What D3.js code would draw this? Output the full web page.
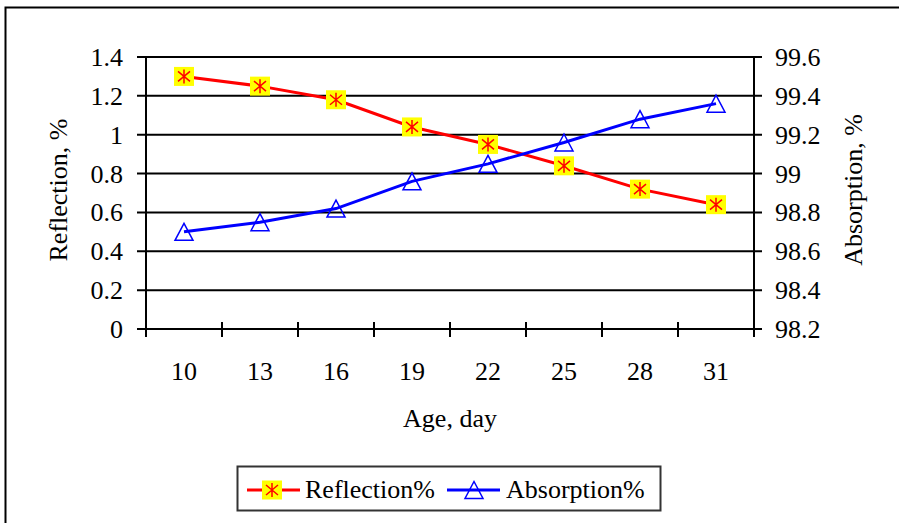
<!doctype html>
<html>
  <head>
    <script src="https://cdn.jsdelivr.net/npm/d3@7/dist/d3.min.js"></script>
    <style>
    body { margin: 0; background: #fff; }
    text { font-family: "Liberation Serif", serif; fill: #000; font-size: 26px; }
    .grid { stroke: #000; stroke-width: 2; }
    </style>
  </head>
  <body>
    <svg id="chart" width="899" height="523"></svg>
    <script>
      var ages = ["10", "13", "16", "19", "22", "25", "28", "31"];
      var reflection = [1.30, 1.25, 1.18, 1.04, 0.95, 0.84, 0.72, 0.64];
      var absorption = [98.70, 98.75, 98.82, 98.96, 99.05, 99.16, 99.28, 99.36];
      var leftTicks = [0, 0.2, 0.4, 0.6, 0.8, 1, 1.2, 1.4];
      var rightTicks = [98.2, 98.4, 98.6, 98.8, 99, 99.2, 99.4, 99.6];

      var svg = d3.select("#chart");
      var plotL = 146, plotR = 754, plotT = 57, plotB = 329;

      var x = d3.scaleBand().domain(ages).range([plotL, plotR]).padding(0);
      var yL = d3.scaleLinear().domain([0, 1.4]).range([plotB, plotT]);
      var yR = d3.scaleLinear().domain([98.2, 99.6]).range([plotB, plotT]);
      var cx = d => x(d) + x.bandwidth() / 2;

      // outer frame
      svg.append("rect")
        .attr("x", 5.5).attr("y", 7.5)
        .attr("width", 960).attr("height", 600)
        .attr("fill", "none").attr("stroke", "#000").attr("stroke-width", 2);

      // gridlines with outer ticks on both sides
      svg.selectAll("line.grid")
        .data(leftTicks)
        .enter().append("line")
          .attr("class", "grid")
          .attr("x1", plotL - 9).attr("x2", plotR + 8)
          .attr("y1", d => yL(d)).attr("y2", d => yL(d));

      // vertical axes
      svg.append("line").attr("class", "grid")
        .attr("x1", plotL).attr("x2", plotL).attr("y1", plotT).attr("y2", plotB + 8);
      svg.append("line").attr("class", "grid")
        .attr("x1", plotR).attr("x2", plotR).attr("y1", plotT).attr("y2", plotB + 8);

      // category ticks
      svg.selectAll("line.xtick")
        .data(ages.slice(1))
        .enter().append("line")
          .attr("class", "grid")
          .attr("x1", d => x(d)).attr("x2", d => x(d))
          .attr("y1", plotB - 7).attr("y2", plotB + 8);

      // tick labels
      svg.selectAll("text.yl")
        .data(leftTicks)
        .enter().append("text")
          .attr("x", 123).attr("y", d => yL(d) + 9)
          .attr("text-anchor", "end")
          .text(d => d);

      svg.selectAll("text.yr")
        .data(rightTicks)
        .enter().append("text")
          .attr("x", 775).attr("y", d => yR(d) + 9)
          .text(d => d);

      svg.selectAll("text.xl")
        .data(ages)
        .enter().append("text")
          .attr("x", cx).attr("y", 380)
          .attr("text-anchor", "middle")
          .text(d => d);

      // axis titles
      svg.append("text")
        .attr("x", 450).attr("y", 427)
        .attr("text-anchor", "middle")
        .text("Age, day");

      svg.append("text")
        .attr("transform", "translate(67,190) rotate(-90)")
        .attr("text-anchor", "middle")
        .text("Reflection, %");

      svg.append("text")
        .attr("transform", "translate(862,190) rotate(-90)")
        .attr("text-anchor", "middle")
        .text("Absorption, %");

      // series
      var lineR = d3.line().x((d, i) => cx(ages[i])).y(d => yL(d));
      var lineA = d3.line().x((d, i) => cx(ages[i])).y(d => yR(d));

      svg.append("path").datum(reflection)
        .attr("d", lineR)
        .attr("fill", "none").attr("stroke", "#ff0000").attr("stroke-width", 3);

      svg.append("path").datum(absorption)
        .attr("d", lineA)
        .attr("fill", "none").attr("stroke", "#0000ff").attr("stroke-width", 3);

      function starMarker(g) {
        g.append("rect")
          .attr("x", -10).attr("y", -9.5).attr("width", 20).attr("height", 19)
          .attr("fill", "#ffff00");
        g.append("path")
          .attr("d", "M0,-7V7M-6,-5L6,5M-6,5L6,-5")
          .attr("stroke", "#ff0000").attr("stroke-width", 1.5).attr("fill", "none");
      }

      function triMarker(g) {
        g.append("path")
          .attr("d", "M0,-8.5L9,8.5L-9,8.5Z")
          .attr("stroke", "#0000ff").attr("stroke-width", 1.5).attr("fill", "none");
      }

      svg.selectAll("g.rm")
        .data(reflection)
        .enter().append("g")
          .attr("transform", (d, i) => `translate(${cx(ages[i])},${yL(d)})`)
          .call(starMarker);

      svg.selectAll("g.am")
        .data(absorption)
        .enter().append("g")
          .attr("transform", (d, i) => `translate(${cx(ages[i])},${yR(d)})`)
          .call(triMarker);

      // legend
      var lg = svg.append("g");
      lg.append("rect")
        .attr("x", 237.5).attr("y", 466.5).attr("width", 423).attr("height", 44)
        .attr("fill", "#fff").attr("stroke", "#333").attr("stroke-width", 2);
      lg.append("line")
        .attr("x1", 247).attr("x2", 300).attr("y1", 490).attr("y2", 490)
        .attr("stroke", "#ff0000").attr("stroke-width", 3);
      lg.append("g").attr("transform", "translate(272,490)").call(starMarker);
      lg.append("text").attr("x", 305).attr("y", 498).text("Reflection%");
      lg.append("line")
        .attr("x1", 447).attr("x2", 500).attr("y1", 490).attr("y2", 490)
        .attr("stroke", "#0000ff").attr("stroke-width", 3);
      lg.append("g").attr("transform", "translate(474,490)").call(triMarker);
      lg.append("text").attr("x", 506).attr("y", 498).text("Absorption%");
    </script>
  </body>
</html>
